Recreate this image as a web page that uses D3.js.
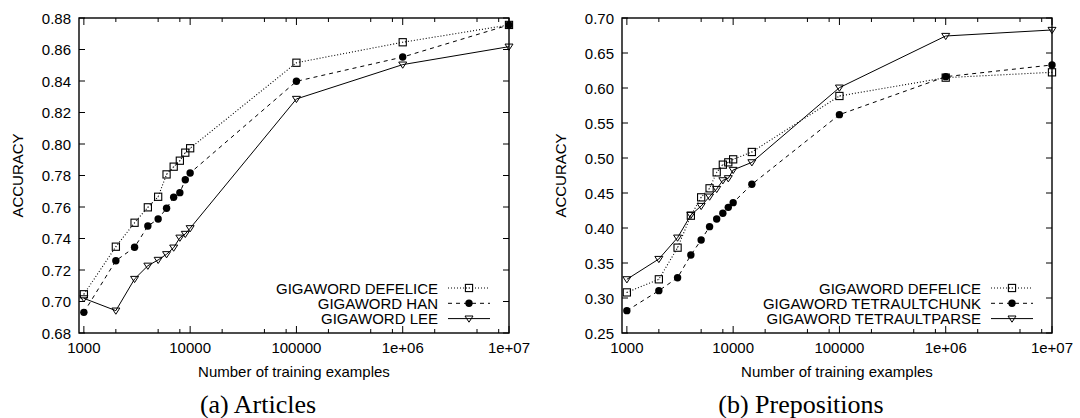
<!DOCTYPE html>
<html>
<head>
<meta charset="utf-8">
<script src="https://cdn.jsdelivr.net/npm/d3@7"></script>
<style>
  body { margin: 0; background: #fff; }
  svg text { font-family: "Liberation Sans", Arial, Helvetica, sans-serif; fill: #000; }
  svg text.caption { font-family: "Liberation Serif", "Times New Roman", serif; }
</style>
</head>
<body>
<div id="chart"></div>
<script>
// training set sizes
var sizesA = [1000, 2000, 3000, 4000, 5000, 6000, 7000, 8000, 9000, 10000, 100000, 1000000, 10000000];
var sizesB = [1000, 2000, 3000, 4000, 5000, 6000, 7000, 8000, 9000, 10000, 15000, 100000, 1000000, 10000000];

// (a) Articles
var defeliceA = [0.7046, 0.7348, 0.7500, 0.7598, 0.7665, 0.7807, 0.7856, 0.7894, 0.7945, 0.7973, 0.8516, 0.8646, 0.8756];
var hanA      = [0.6931, 0.7259, 0.7344, 0.7479, 0.7524, 0.7592, 0.7662, 0.7691, 0.7773, 0.7816, 0.8398, 0.8552, 0.8756];
var leeA      = [0.7020, 0.6942, 0.7143, 0.7227, 0.7264, 0.7300, 0.7342, 0.7405, 0.7429, 0.7465, 0.8286, 0.8504, 0.8618];

// (b) Prepositions
var defeliceB = [0.3080, 0.3267, 0.3719, 0.4176, 0.4438, 0.4567, 0.4795, 0.4905, 0.4938, 0.4981, 0.5086, 0.5886, 0.6148, 0.6224];
var chunkB    = [0.2819, 0.3105, 0.3290, 0.3614, 0.3829, 0.4019, 0.4129, 0.4210, 0.4295, 0.4362, 0.4624, 0.5619, 0.6162, 0.6329];
var parseB    = [0.3267, 0.3557, 0.3862, 0.4186, 0.4314, 0.4448, 0.4557, 0.4681, 0.4710, 0.4829, 0.4938, 0.6005, 0.6743, 0.6829];

// axes
var xTicks = [1000, 10000, 100000, 1000000, 10000000];
var xTickLabels = ["1000", "10000", "100000", "1e+06", "1e+07"];
var xMinorTicks = [2000, 5000, 8000, 20000, 50000, 80000, 200000, 500000, 800000, 2000000, 5000000, 8000000];
var yTicksA = [0.68, 0.70, 0.72, 0.74, 0.76, 0.78, 0.80, 0.82, 0.84, 0.86, 0.88];
var yTicksB = [0.25, 0.30, 0.35, 0.40, 0.45, 0.50, 0.55, 0.60, 0.65, 0.70];

var svg = d3.select("#chart").append("svg")
    .attr("width", 1080)
    .attr("height", 418);

svg.append("rect").attr("width", 1080).attr("height", 418).attr("fill", "#fff");

function drawMarker(g, type, x, y) {
    if (type == "square") {
        g.append("rect")
            .attr("x", x - 3.6).attr("y", y - 3.6)
            .attr("width", 7.2).attr("height", 7.2)
            .attr("fill", "none").attr("stroke", "#000").attr("stroke-width", 1.1);
        g.append("rect")
            .attr("x", x - 0.5).attr("y", y - 0.5)
            .attr("width", 1).attr("height", 1)
            .attr("fill", "#555");
    } else if (type == "circle") {
        g.append("circle")
            .attr("cx", x).attr("cy", y).attr("r", 3.7)
            .attr("fill", "#000");
    } else {
        g.append("path")
            .attr("d", "M" + (x - 4) + "," + (y - 2.6) + "L" + (x + 4) + "," + (y - 2.6) + "L" + x + "," + (y + 3.6) + "Z")
            .attr("fill", "none").attr("stroke", "#000").attr("stroke-width", 1);
    }
}

var drawPanel = function(cfg) {
    var top = 18, bottom = 333;
    var x = d3.scaleLog().domain([900, 1e7]).range([cfg.left, cfg.right]);
    var y = d3.scaleLinear().domain(cfg.yDomain).range([bottom, top]);
    var g = svg.append("g");

    // y ticks, left and mirrored on right
    cfg.yTicks.forEach(function(t) {
        g.append("line").attr("x1", cfg.left).attr("x2", cfg.left + 6)
            .attr("y1", y(t)).attr("y2", y(t)).attr("stroke", "#000").attr("stroke-width", 1);
        g.append("line").attr("x1", cfg.right).attr("x2", cfg.right - 6)
            .attr("y1", y(t)).attr("y2", y(t)).attr("stroke", "#000").attr("stroke-width", 1);
        g.append("text")
            .attr("x", cfg.left - 8).attr("y", y(t) + 5.5)
            .attr("text-anchor", "end").attr("font-size", 15)
            .text(d3.format(".2f")(t));
    });

    // x ticks, bottom and mirrored on top
    xTicks.forEach(function(t, i) {
        g.append("line").attr("x1", x(t)).attr("x2", x(t))
            .attr("y1", bottom).attr("y2", bottom - 7).attr("stroke", "#000").attr("stroke-width", 1);
        g.append("line").attr("x1", x(t)).attr("x2", x(t))
            .attr("y1", top).attr("y2", top + 7).attr("stroke", "#000").attr("stroke-width", 1);
        g.append("text")
            .attr("x", x(t)).attr("y", 353)
            .attr("text-anchor", "middle").attr("font-size", 15)
            .text(xTickLabels[i]);
    });
    xMinorTicks.forEach(function(t) {
        g.append("line").attr("x1", x(t)).attr("x2", x(t))
            .attr("y1", bottom).attr("y2", bottom - 4).attr("stroke", "#000").attr("stroke-width", 1);
        g.append("line").attr("x1", x(t)).attr("x2", x(t))
            .attr("y1", top).attr("y2", top + 4).attr("stroke", "#000").attr("stroke-width", 1);
    });

    // series
    var line = d3.line()
        .x(function(d) { return x(d[0]); })
        .y(function(d) { return y(d[1]); });

    cfg.series.forEach(function(s, k) {
        var pts = s.sizes.map(function(v, i) { return [v, s.values[i]]; });
        g.append("path")
            .datum(pts)
            .attr("d", line)
            .attr("fill", "none")
            .attr("stroke", "#000")
            .attr("stroke-width", s.dash == "1,2" ? 1.1 : 1)
            .attr("stroke-dasharray", s.dash);
        pts.forEach(function(p) { drawMarker(g, s.marker, x(p[0]), y(p[1])); });

        // legend row
        var ly = 288 + k * 15.3;
        g.append("text")
            .attr("x", cfg.right - 71).attr("y", ly + 5.5)
            .attr("text-anchor", "end").attr("font-size", 15)
            .text(s.name);
        g.append("line")
            .attr("x1", cfg.right - 61).attr("x2", cfg.right - 19)
            .attr("y1", ly).attr("y2", ly)
            .attr("stroke", "#000").attr("stroke-width", s.dash == "1,2" ? 1.1 : 1)
            .attr("stroke-dasharray", s.dash);
        drawMarker(g, s.marker, cfg.right - 40, ly);
    });

    // frame
    g.append("rect")
        .attr("x", cfg.left).attr("y", top)
        .attr("width", cfg.right - cfg.left).attr("height", bottom - top)
        .attr("fill", "none").attr("stroke", "#000").attr("stroke-width", 1.4);

    // labels
    g.append("text")
        .attr("transform", "translate(" + cfg.yLabelX + "," + (top + bottom) / 2 + ") rotate(-90)")
        .attr("text-anchor", "middle").attr("font-size", 15)
        .text("ACCURACY");
    g.append("text")
        .attr("x", (cfg.left + cfg.right) / 2).attr("y", 377)
        .attr("text-anchor", "middle").attr("font-size", 15)
        .text("Number of training examples");
    g.append("text")
        .attr("class", "caption")
        .attr("x", cfg.captionX).attr("y", 413)
        .attr("text-anchor", "middle").attr("font-size", 26)
        .text(cfg.caption);
};

drawPanel({
    left: 79, right: 509, yDomain: [0.68, 0.88], yTicks: yTicksA,
    yLabelX: 23, captionX: 258, caption: "(a) Articles",
    series: [
        { name: "GIGAWORD DEFELICE", sizes: sizesA, values: defeliceA, dash: "1,2", marker: "square" },
        { name: "GIGAWORD HAN", sizes: sizesA, values: hanA, dash: "4,4", marker: "circle" },
        { name: "GIGAWORD LEE", sizes: sizesA, values: leeA, dash: null, marker: "triangle" }
    ]
});

drawPanel({
    left: 622, right: 1052, yDomain: [0.25, 0.70], yTicks: yTicksB,
    yLabelX: 566, captionX: 801, caption: "(b) Prepositions",
    series: [
        { name: "GIGAWORD DEFELICE", sizes: sizesB, values: defeliceB, dash: "1,2", marker: "square" },
        { name: "GIGAWORD TETRAULTCHUNK", sizes: sizesB, values: chunkB, dash: "4,4", marker: "circle" },
        { name: "GIGAWORD TETRAULTPARSE", sizes: sizesB, values: parseB, dash: null, marker: "triangle" }
    ]
});
</script>
</body>
</html>
